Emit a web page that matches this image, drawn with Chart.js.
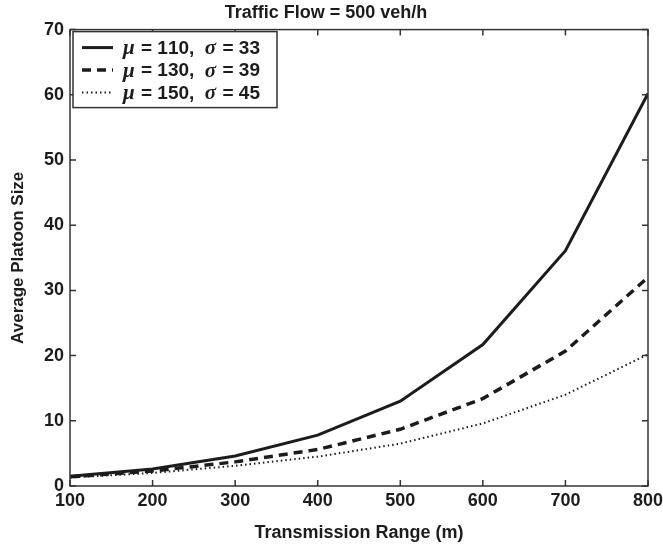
<!DOCTYPE html>
<html>
<head>
<meta charset="utf-8">
<script src="https://cdn.jsdelivr.net/npm/chart.js@4.4.1/dist/chart.umd.min.js"></script>
<style>
  html, body { margin: 0; padding: 0; background: #fff; }
  #wrap { width: 663px; height: 548px; }
</style>
</head>
<body>
<div id="wrap"><canvas id="myChart"></canvas></div>
<script>
const ranges = [100, 200, 300, 400, 500, 600, 700, 800];
const sizeMu110 = [1.5, 2.6, 4.6, 7.8, 13.0, 21.7, 36.1, 60.2];
const sizeMu130 = [1.4, 2.3, 3.7, 5.6, 8.7, 13.4, 20.7, 32.0];
const sizeMu150 = [1.3, 2.0, 3.1, 4.5, 6.5, 9.6, 14.0, 20.2];
const seriesLabels = ["\u03bc = 110,  \u03c3 = 33", "\u03bc = 130,  \u03c3 = 39", "\u03bc = 150,  \u03c3 = 45"];
const xTicks = [100, 200, 300, 400, 500, 600, 700, 800];
const yTicks = [0, 10, 20, 30, 40, 50, 60, 70];

const ink = "#1c1c1c";
const boldFont = "'Liberation Sans', Arial, sans-serif";

const toPoints = function (vals) {
  return vals.map((v, i) => ({ x: ranges[i], y: v }));
};

// box round the plot with inward ticks on all four sides
const framePlugin = {
  id: "frame",
  afterDatasetsDraw(chart) {
    const ctx = chart.ctx;
    const a = chart.chartArea;
    const xs = chart.scales.x;
    const ys = chart.scales.y;
    ctx.save();
    ctx.strokeStyle = "#333";
    ctx.lineWidth = 1.5;
    ctx.strokeRect(a.left, a.top, a.right - a.left, a.bottom - a.top);
    ctx.beginPath();
    xTicks.forEach((t) => {
      const px = xs.getPixelForValue(t);
      ctx.moveTo(px, a.bottom); ctx.lineTo(px, a.bottom - 6);
      ctx.moveTo(px, a.top); ctx.lineTo(px, a.top + 6);
    });
    yTicks.forEach((t) => {
      const py = ys.getPixelForValue(t);
      ctx.moveTo(a.left, py); ctx.lineTo(a.left + 6, py);
      ctx.moveTo(a.right, py); ctx.lineTo(a.right - 6, py);
    });
    ctx.stroke();
    ctx.restore();
  },
};

// legend in the top-left corner, greek letters in italic
const legendPlugin = {
  id: "boxLegend",
  afterDraw(chart) {
    const ctx = chart.ctx;
    const a = chart.chartArea;
    const x0 = a.left + 3, y0 = a.top + 2, w = 204, h = 76;
    ctx.save();
    ctx.fillStyle = "#fff";
    ctx.fillRect(x0, y0, w, h);
    ctx.strokeStyle = "#333";
    ctx.lineWidth = 1.5;
    ctx.strokeRect(x0, y0, w, h);
    chart.data.datasets.forEach((ds, i) => {
      const y = y0 + 16 + i * 22.5;
      ctx.strokeStyle = ds.borderColor;
      ctx.lineWidth = ds.borderWidth;
      ctx.setLineDash(ds.borderDash || []);
      ctx.beginPath();
      ctx.moveTo(x0 + 9, y);
      ctx.lineTo(x0 + 40, y);
      ctx.stroke();
      ctx.setLineDash([]);
      let tx = x0 + 50;
      ctx.fillStyle = ink;
      ctx.textBaseline = "middle";
      for (const ch of ds.label) {
        const greek = ch === "\u03bc" || ch === "\u03c3";
        ctx.font = greek ? "italic bold 21px 'Liberation Serif', serif" : "bold 19px " + boldFont;
        ctx.fillText(ch, tx, y + 1);
        tx += ctx.measureText(ch).width + (greek ? 1 : 0);
      }
    });
    ctx.restore();
  },
};

const config = {
  type: "line",
  data: {
    datasets: [
      {
        label: seriesLabels[0],
        data: toPoints(sizeMu110),
        borderColor: ink,
        borderWidth: 3,
        pointRadius: 0,
        tension: 0,
      },
      {
        label: seriesLabels[1],
        data: toPoints(sizeMu130),
        borderColor: ink,
        borderWidth: 3.5,
        borderDash: [9, 6],
        pointRadius: 0,
        tension: 0,
      },
      {
        label: seriesLabels[2],
        data: toPoints(sizeMu150),
        borderColor: ink,
        borderWidth: 2,
        borderDash: [1.5, 3],
        pointRadius: 0,
        tension: 0,
      },
    ],
  },
  options: {
    responsive: true,
    maintainAspectRatio: false,
    animation: false,
    layout: { padding: { left: 4, right: 15, top: 0, bottom: 0 } },
    plugins: {
      legend: { display: false },
      tooltip: { enabled: false },
      title: {
        display: true,
        text: "Traffic Flow = 500 veh/h",
        color: ink,
        font: { family: boldFont, size: 18, weight: "bold" },
        padding: { top: 2, bottom: 6 },
      },
    },
    scales: {
      x: {
        type: "linear",
        min: 100,
        max: 800,
        afterBuildTicks: (s) => { s.ticks = xTicks.map((v) => ({ value: v })); },
        afterFit: (s) => { s.height = 62; s.paddingRight = 0; s.paddingLeft = 0; },
        grid: { display: false, drawTicks: false },
        border: { display: false },
        ticks: {
          color: ink,
          padding: 4,
          maxRotation: 0,
          font: { family: boldFont, size: 18, weight: "bold" },
        },
        title: {
          display: true,
          text: "Transmission Range (m)",
          color: ink,
          font: { family: boldFont, size: 18, weight: "bold" },
          padding: { top: 11 },
        },
      },
      y: {
        min: 0,
        max: 70,
        afterBuildTicks: (s) => { s.ticks = yTicks.map((v) => ({ value: v })); },
        afterFit: (s) => { s.width = 66; },
        grid: { display: false, drawTicks: false },
        border: { display: false },
        ticks: {
          color: ink,
          padding: 6,
          font: { family: boldFont, size: 18, weight: "bold" },
        },
        title: {
          display: true,
          text: "Average Platoon Size",
          color: ink,
          font: { family: boldFont, size: 17, weight: "bold" },
          padding: { bottom: 4 },
        },
      },
    },
  },
  plugins: [framePlugin, legendPlugin],
};

new Chart(document.getElementById("myChart"), config);
</script>
</body>
</html>
